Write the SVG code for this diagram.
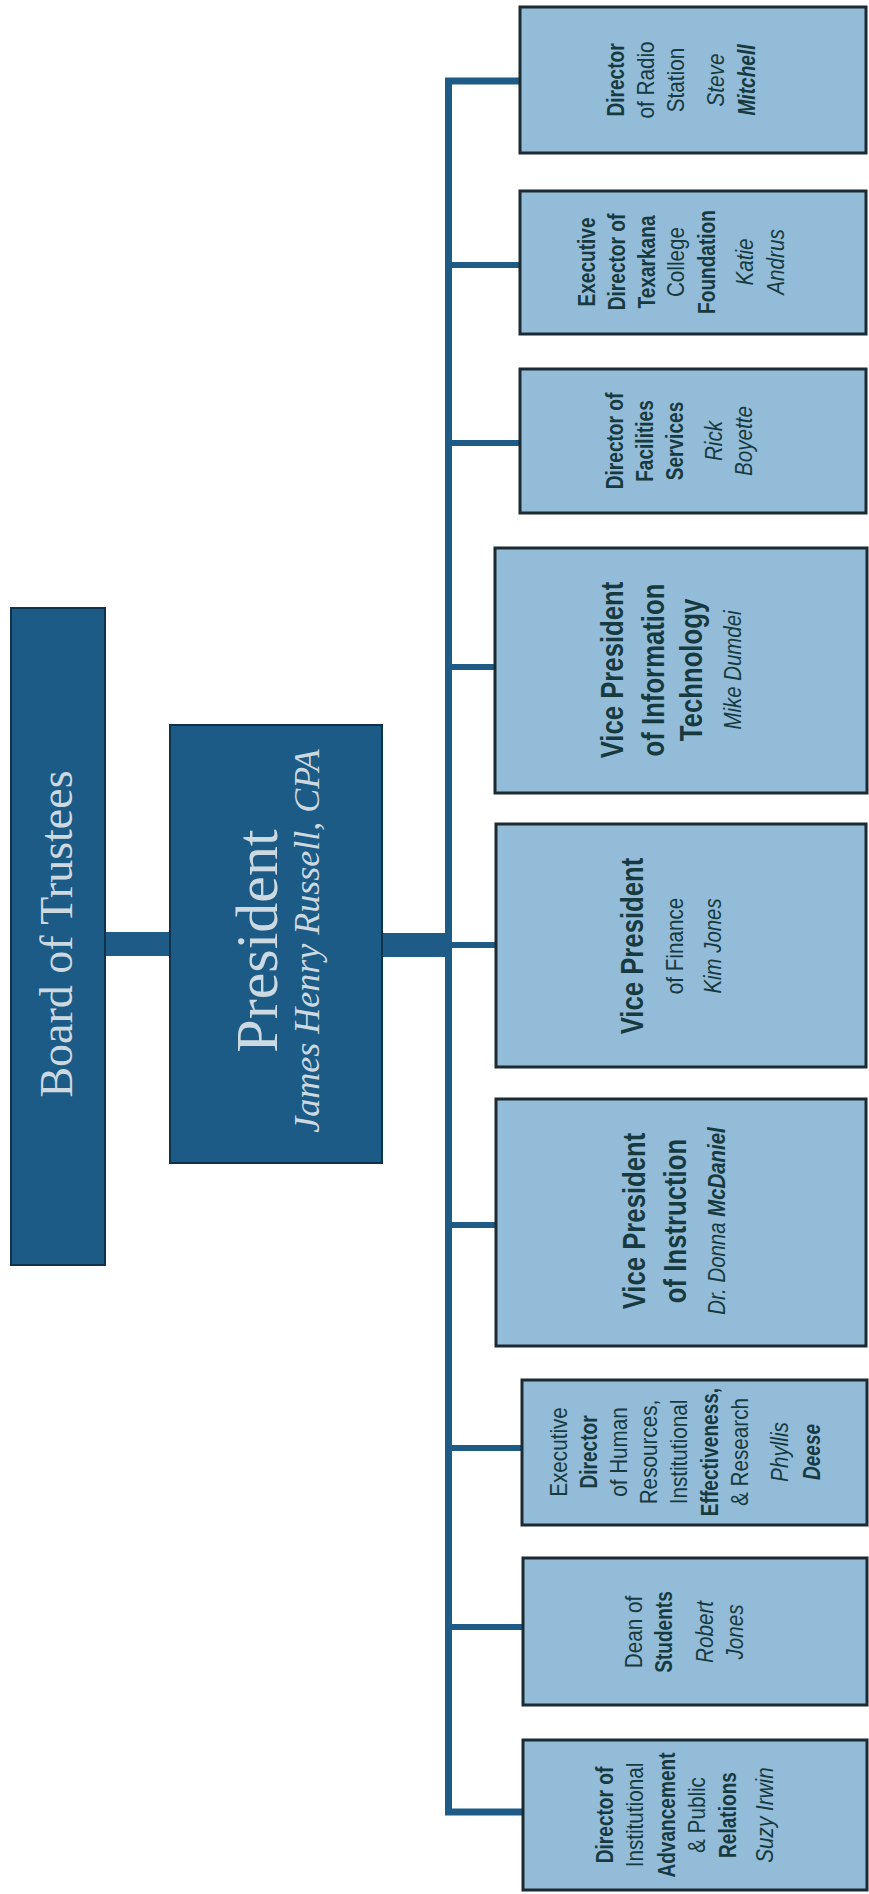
<svg xmlns="http://www.w3.org/2000/svg" width="869" height="1894" viewBox="0 0 869 1894">
<style>
.dark{fill:#1d5b87;stroke:#10324a;stroke-width:2}
.box{fill:#93bcd9;stroke:#1c2a31;stroke-width:3}
.conn{fill:#1e5b86}
.line{stroke:#1e5b86;fill:none;stroke-width:7;stroke-linejoin:miter}
.br{stroke:#1e5b86;stroke-width:6}
.serif{font-family:"Liberation Serif","Times New Roman",serif;fill:#cdd9e0;text-anchor:middle}
.t{font-family:"Liberation Sans",Arial,sans-serif;fill:#173a40;text-anchor:middle;font-size:23px;transform:scale(0.9,1)}
.i{font-style:italic}
.b{font-weight:bold;transform:scale(0.83,1)}
.vp{font-size:31px;font-weight:bold;transform:scale(0.83,1)}
.nm{font-size:24px;font-style:italic;transform:scale(0.85,1)}
</style>
<rect width="869" height="1894" fill="#ffffff"/>
<g id="connectors">
<rect class="conn" x="104" y="932" width="67" height="24"/>
<rect class="conn" x="381" y="933" width="67" height="24"/>
<path class="line" d="M521,81 H448.5 V1812 H523"/>
<line class="br" x1="448" y1="265" x2="520" y2="265"/>
<line class="br" x1="448" y1="443" x2="520" y2="443"/>
<line class="br" x1="448" y1="667" x2="495" y2="667"/>
<line class="br" x1="448" y1="945" x2="496" y2="945"/>
<line class="br" x1="448" y1="1225" x2="496" y2="1225"/>
<line class="br" x1="448" y1="1448" x2="522" y2="1448"/>
<line class="br" x1="448" y1="1627" x2="523" y2="1627"/>
</g>
<g id="board">
<rect class="dark" x="11" y="608" width="94" height="657"/>
<g transform="translate(0,934) rotate(-90)"><text class="serif" x="0" y="72" font-size="46">Board of Trustees</text></g>
</g>
<g id="president">
<rect class="dark" x="170" y="725" width="212" height="438"/>
<g transform="translate(0,941) rotate(-90)">
<text class="serif" x="0" y="277" font-size="60">President</text>
<text class="serif" x="0" y="319" font-size="36" font-style="italic">James Henry Russell, CPA</text>
</g>
</g>
<g id="radio">
<rect class="box" x="520" y="7" width="346" height="146"/>
<g transform="translate(0,80) rotate(-90)">
<text class="t b" x="0" y="624">Director</text>
<text class="t" x="0" y="654">of Radio</text>
<text class="t" x="0" y="684">Station</text>
<text class="t i" x="0" y="724">Steve</text>
<text class="t b i" x="0" y="755">Mitchell</text>
</g>
</g>
<g id="foundation">
<rect class="box" x="520" y="191" width="346" height="143"/>
<g transform="translate(0,262) rotate(-90)">
<text class="t b" x="0" y="595">Executive</text>
<text class="t b" x="0" y="625">Director of</text>
<text class="t b" x="0" y="655">Texarkana</text>
<text class="t" x="0" y="684">College</text>
<text class="t b" x="0" y="715">Foundation</text>
<text class="t i" x="0" y="753">Katie</text>
<text class="t i" x="0" y="784">Andrus</text>
</g>
</g>
<g id="facilities">
<rect class="box" x="520" y="369" width="346" height="144"/>
<g transform="translate(0,441) rotate(-90)">
<text class="t b" x="0" y="623">Director of</text>
<text class="t b" x="0" y="653">Facilities</text>
<text class="t b" x="0" y="683">Services</text>
<text class="t i" x="0" y="722">Rick</text>
<text class="t i" x="0" y="752">Boyette</text>
</g>
</g>
<g id="vp-it">
<rect class="box" x="495" y="548" width="372" height="245"/>
<g transform="translate(0,670) rotate(-90)">
<text class="t vp" x="0" y="623">Vice President</text>
<text class="t vp" x="0" y="664">of Information</text>
<text class="t vp" x="0" y="702">Technology</text>
<text class="t nm" x="0" y="741">Mike Dumdei</text>
</g>
</g>
<g id="vp-finance">
<rect class="box" x="496" y="824" width="370" height="243"/>
<g transform="translate(0,946) rotate(-90)">
<text class="t vp" x="0" y="643">Vice President</text>
<text class="t" x="0" y="683" font-size="31">of Finance</text>
<text class="t nm" x="0" y="721">Kim Jones</text>
</g>
</g>
<g id="vp-instruction">
<rect class="box" x="496" y="1099" width="370" height="247"/>
<g transform="translate(0,1221) rotate(-90)">
<text class="t vp" x="0" y="645">Vice President</text>
<text class="t vp" x="0" y="686">of Instruction</text>
<text class="t nm" x="0" y="725">Dr. Donna <tspan font-weight="bold">McDaniel</tspan></text>
</g>
</g>
<g id="hr">
<rect class="box" x="522" y="1380" width="345" height="145"/>
<g transform="translate(0,1452) rotate(-90)">
<text class="t" x="0" y="567">Executive</text>
<text class="t b" x="0" y="597">Director</text>
<text class="t" x="0" y="627">of Human</text>
<text class="t" x="0" y="657">Resources,</text>
<text class="t" x="0" y="687">Institutional</text>
<text class="t b" x="0" y="718">Effectiveness,</text>
<text class="t" x="0" y="748">&amp; Research</text>
<text class="t i" x="0" y="788">Phyllis</text>
<text class="t b i" x="0" y="820">Deese</text>
</g>
</g>
<g id="dean">
<rect class="box" x="523" y="1558" width="344" height="147"/>
<g transform="translate(0,1632) rotate(-90)">
<text class="t" x="0" y="642">Dean of</text>
<text class="t b" x="0" y="672">Students</text>
<text class="t i" x="0" y="713">Robert</text>
<text class="t i" x="0" y="743">Jones</text>
</g>
</g>
<g id="advancement">
<rect class="box" x="523" y="1740" width="344" height="150"/>
<g transform="translate(0,1815) rotate(-90)">
<text class="t b" x="0" y="613">Director of</text>
<text class="t" x="0" y="643">Institutional</text>
<text class="t b" x="0" y="675">Advancement</text>
<text class="t" x="0" y="705">&amp; Public</text>
<text class="t b" x="0" y="736">Relations</text>
<text class="t i" x="0" y="773">Suzy Irwin</text>
</g>
</g>
</svg>
